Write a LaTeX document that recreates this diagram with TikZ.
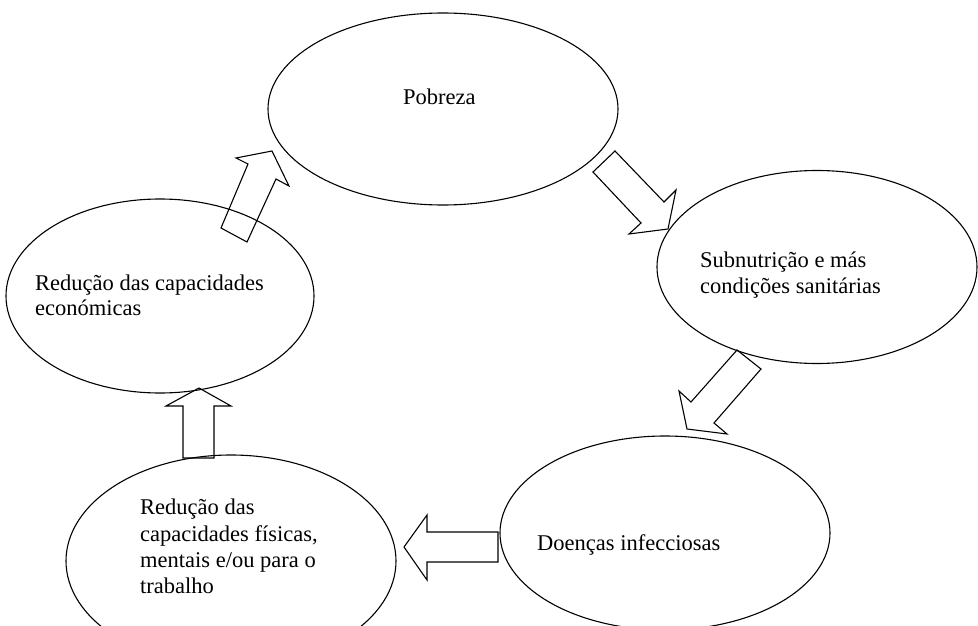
\documentclass[tikz,border=0pt]{standalone}
\usepackage{fontspec}
\setmainfont{Liberation Serif}
\usetikzlibrary{shapes.geometric}
\begin{document}
\begin{tikzpicture}[x=1pt,y=-1pt,
  bubble/.style={draw, line width=1.1pt, ellipse, inner sep=0pt},
  lbl/.style={anchor=base west, inner sep=0pt, font=\fontsize{22.5}{26}\selectfont},
  blockarrow/.style={draw, line width=1.1pt, line join=miter}]
\useasboundingbox (0,0) rectangle (978,626);
% ellipses
\node[bubble, minimum width=350pt, minimum height=192pt] (pob) at (443,109) {};
\node[bubble, minimum width=320pt, minimum height=193pt] (sub) at (817,267) {};
\node[bubble, minimum width=330pt, minimum height=194pt] (doe) at (665,533) {};
\node[bubble, minimum width=330pt, minimum height=212pt] (fis) at (231,561) {};
\node[bubble, minimum width=308pt, minimum height=194pt] (eco) at (160,296) {};
% texts
\node[lbl] (tpob) at (403,105) {Pobreza};
\node[lbl] (tsub1) at (700,267) {Subnutrição e más};
\node[lbl] (tsub2) at (700,293) {condições sanitárias};
\node[lbl] (tdoe) at (537,550) {Doenças infecciosas};
\node[lbl] (tfis1) at (140,514) {Redução das};
\node[lbl] (tfis2) at (140,541) {capacidades físicas,};
\node[lbl] (tfis3) at (140,567) {mentais e/ou para o};
\node[lbl] (tfis4) at (140,593) {trabalho};
\node[lbl] (teco1) at (35,290) {Redução das capacidades};
\node[lbl] (teco2) at (35,315) {económicas};
% block arrows
% economicas -> pobreza
\draw[blockarrow] (221,228) -- (248,164) -- (236,158) -- (272,151) -- (289,186) -- (276,179) -- (247,242) -- cycle;
% pobreza -> subnutricao
\draw[blockarrow] (615,151) -- (664,202) -- (676,190) -- (668,229) -- (629,234) -- (641,223) -- (593,172) -- cycle;
% subnutricao -> doencas
\draw[blockarrow] (737,350) -- (761,369) -- (714,423) -- (727,434) -- (687,429) -- (679,391) -- (691,402) -- cycle;
% doencas -> fisicas
\draw[blockarrow] (498,532) -- (427,532) -- (427,515) -- (404,547) -- (427,580) -- (427,562) -- (498,562) -- cycle;
% fisicas -> economicas
\draw[blockarrow] (183,458) -- (183,406) -- (166,406) -- (199,388) -- (231,406) -- (214,406) -- (214,458) -- cycle;
\end{tikzpicture}
\end{document}
